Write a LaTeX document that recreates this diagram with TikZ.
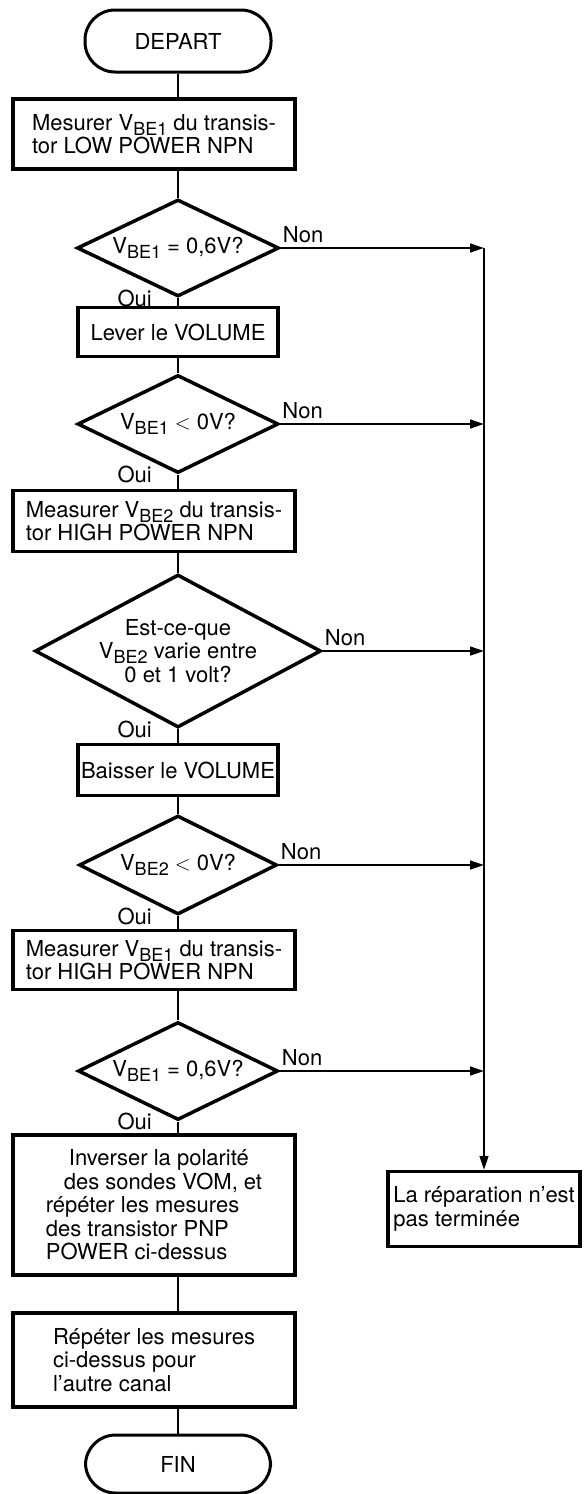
\documentclass[tikz,border=0pt]{standalone}
\usepackage{fontspec}
\setmainfont{TeX Gyre Heros}
\usetikzlibrary{arrows.meta,shapes.geometric}

\newcommand{\vbe}[1]{V\raisebox{-5pt}{\fontsize{18}{18}\selectfont BE#1}}

\tikzset{
  etape/.style={draw, rectangle, line width=3.5pt, inner sep=0pt, align=left},
  test/.style={draw, diamond, line width=3.5pt, inner sep=0pt, align=center},
  borne/.style={draw, rectangle, rounded corners=30pt, line width=3pt,
    minimum width=186pt, minimum height=62pt},
  lien/.style={line width=1.8pt},
  fleche/.style={line width=1.3pt, -{Triangle[length=14pt,width=9pt]}},
  rep/.style={inner sep=0pt}
}

\begin{document}
\begin{tikzpicture}[x=1pt,y=-1pt,font=\fontsize{22}{23.5}\selectfont]
\useasboundingbox (0,0) rectangle (585,1494);
\node[borne] (depart) at (178,41) {DEPART};
\node[etape, minimum width=282pt, minimum height=70pt] (mes1) at (154,134) {Mesurer \vbe{1} du transis-\\tor LOW POWER NPN};
\node[test, minimum width=202pt, minimum height=97pt, aspect=2.08] (test1) at (178,248) {\vbe{1} = 0,6V?};
\node[etape, minimum width=200pt, minimum height=49pt] (lever) at (178,332) {Lever le VOLUME};
\node[test, minimum width=201pt, minimum height=98pt, aspect=2.05] (test2) at (178,424) {\vbe{1} $<$ 0V?};
\node[etape, minimum width=282pt, minimum height=61pt] (mes2) at (154,521) {Measurer \vbe{2} du transis-\\tor HIGH POWER NPN};
\node[test, minimum width=286pt, minimum height=153pt, aspect=1.87] (test3) at (178,651) {Est-ce-que\\\vbe{2} varie entre\\0 et 1 volt?};
\node[etape, minimum width=200pt, minimum height=51pt] (baisser) at (178,770) {Baisser le VOLUME};
\node[test, minimum width=198pt, minimum height=99pt, aspect=2.0] (test4) at (178,865) {\vbe{2} $<$ 0V?};
\node[etape, minimum width=282pt, minimum height=59pt] (mes3) at (154,960) {Measurer \vbe{1} du transis-\\tor HIGH POWER NPN};
\node[test, minimum width=200pt, minimum height=98pt, aspect=2.04] (test5) at (178,1071) {\vbe{1} = 0,6V?};
\node[etape, minimum width=282pt, minimum height=140pt] (inverser) at (154,1205) {\hspace*{23pt}Inverser la polarité\\\hspace*{18pt}des sondes VOM, et\\répéter les mesures\\des transistor PNP\\POWER ci-dessus};
\node[etape, minimum width=282pt, minimum height=94pt] (repeter) at (154,1360) {Répéter les mesures\\ci-dessus pour\\l’autre canal};
\node[borne, minimum width=185pt, minimum height=58pt] (fin) at (178,1464) {FIN};
\node[etape, minimum width=192pt, minimum height=75pt] (echec) at (484,1209) {La réparation n’est\\pas terminée};

% colonne principale
\draw[lien] (depart.south) -- (depart.south |- mes1.north);
\draw[lien] (mes1.south -| test1.north) -- (test1.north);
\draw[lien] (test1.south) -- (lever.north);
\draw[lien] (lever.south) -- (test2.north);
\draw[lien] (test2.south) -- (test2.south |- mes2.north);
\draw[lien] (mes2.south -| test3.north) -- (test3.north);
\draw[lien] (test3.south) -- (baisser.north);
\draw[lien] (baisser.south) -- (test4.north);
\draw[lien] (test4.south) -- (test4.south |- mes3.north);
\draw[lien] (mes3.south -| test5.north) -- (test5.north);
\draw[lien] (test5.south) -- (test5.south |- inverser.north);
\draw[lien] (inverser.south -| fin.north) -- (repeter.north -| fin.north);
\draw[lien] (repeter.south -| fin.north) -- (fin.north);

% sorties Non
\draw[fleche] (test1.east) -- (test1.east -| echec.north);
\draw[fleche] (test2.east) -- (test2.east -| echec.north);
\draw[fleche] (test3.east) -- (test3.east -| echec.north);
\draw[fleche] (test4.east) -- (test4.east -| echec.north);
\draw[fleche] (test5.east) -- (test5.east -| echec.north);
\draw[fleche] (test1.east -| echec.north) -- (echec.north);

\node[rep, anchor=south west, xshift=2pt, yshift=5pt] (non1) at (test1.east) {Non};
\node[rep, anchor=south west, xshift=2pt, yshift=5pt] (non2) at (test2.east) {Non};
\node[rep, anchor=south west, xshift=2pt, yshift=5pt] (non3) at (test3.east) {Non};
\node[rep, anchor=south west, xshift=2pt, yshift=5pt] (non4) at (test4.east) {Non};
\node[rep, anchor=south west, xshift=2pt, yshift=5pt] (non5) at (test5.east) {Non};
\node[rep, anchor=east, xshift=-26pt] (oui1) at (test1.south) {Oui};
\node[rep, anchor=east, xshift=-26pt] (oui2) at (test2.south) {Oui};
\node[rep, anchor=east, xshift=-26pt] (oui3) at (test3.south) {Oui};
\node[rep, anchor=east, xshift=-26pt] (oui4) at (test4.south) {Oui};
\node[rep, anchor=east, xshift=-26pt] (oui5) at (test5.south) {Oui};
\end{tikzpicture}
\end{document}
